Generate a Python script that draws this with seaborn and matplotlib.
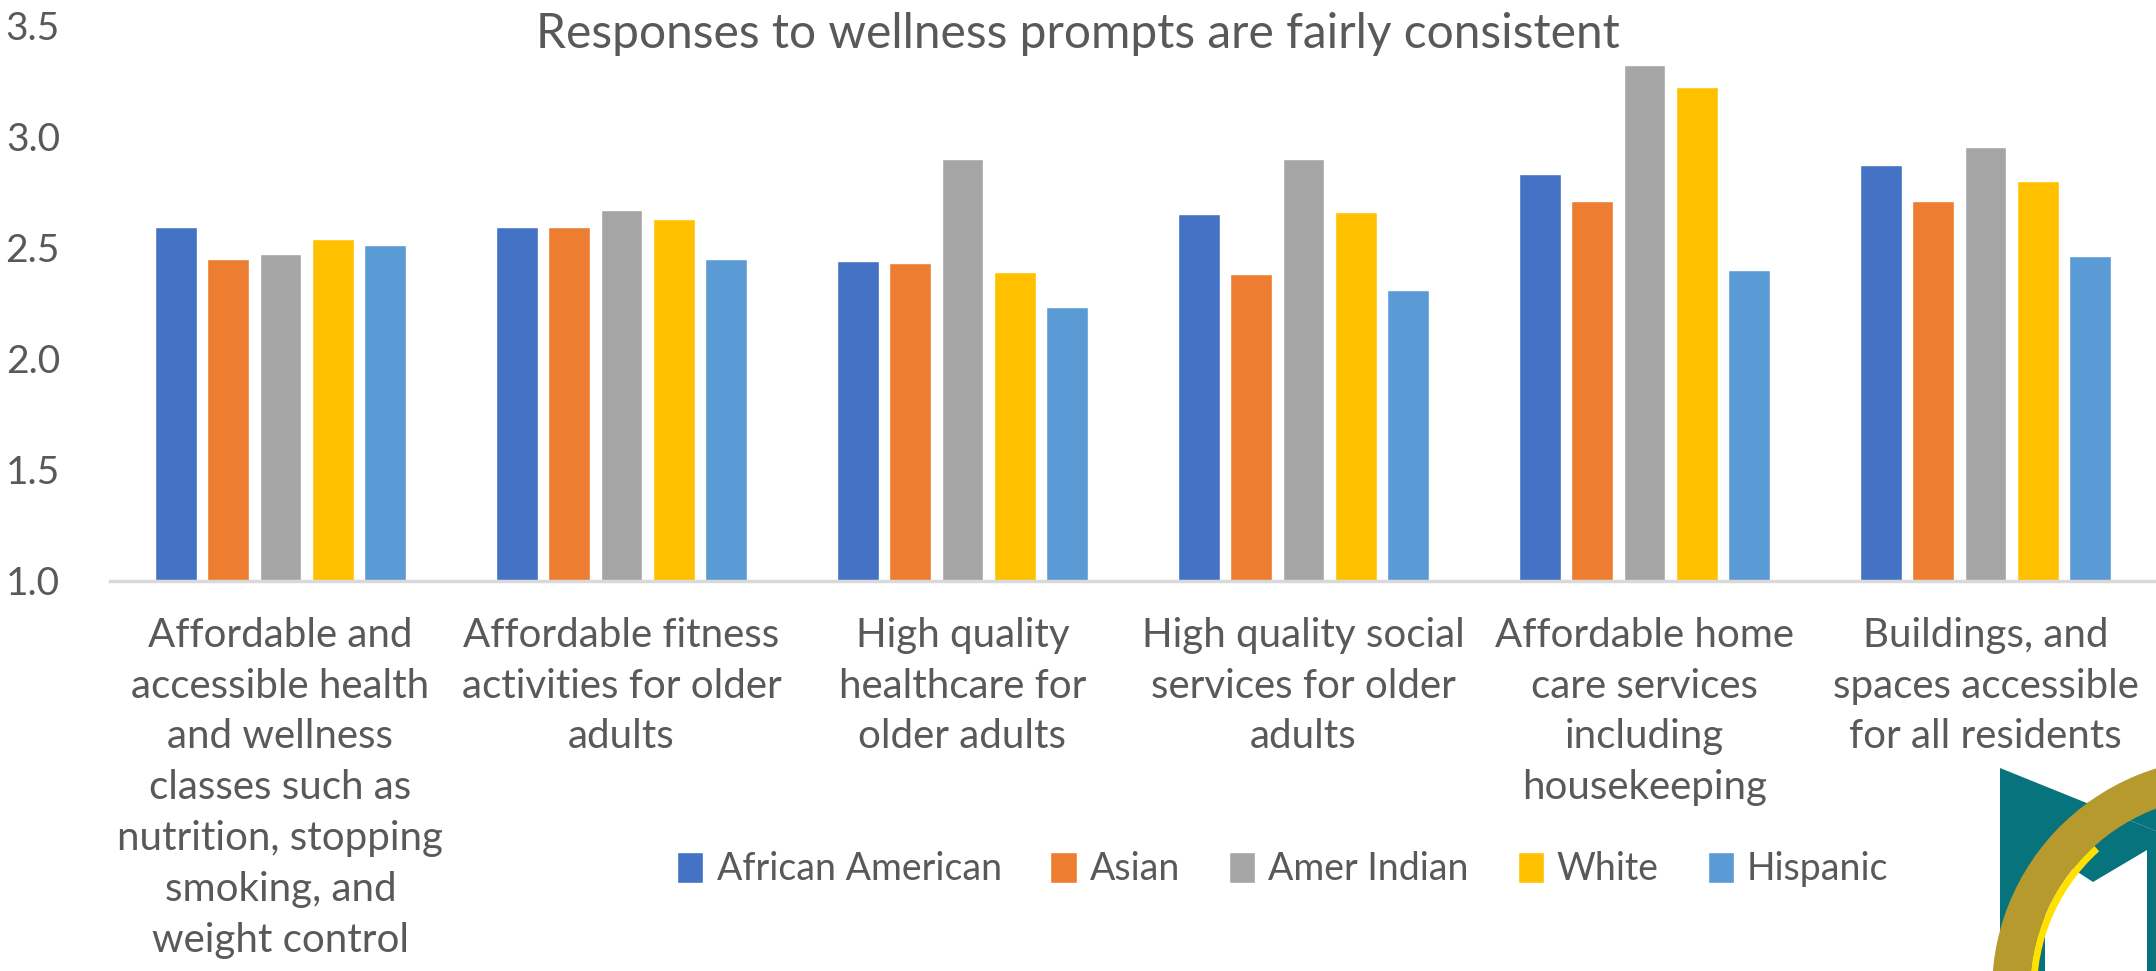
import numpy as np
import pandas as pd
import matplotlib.pyplot as plt
import seaborn as sns
from matplotlib.patches import Polygon, Wedge

categories = [
    "Affordable and\naccessible health\nand wellness\nclasses such as\nnutrition, stopping\nsmoking, and\nweight control",
    "Affordable fitness\nactivities for older\nadults",
    "High quality\nhealthcare for\nolder adults",
    "High quality social\nservices for older\nadults",
    "Affordable home\ncare services\nincluding\nhousekeeping",
    "Buildings, and\nspaces accessible\nfor all residents",
]
groups = ["African American", "Asian", "Amer Indian", "White", "Hispanic"]

african_american = [2.59, 2.59, 2.44, 2.65, 2.83, 2.87]
asian            = [2.45, 2.59, 2.43, 2.38, 2.71, 2.71]
amer_indian      = [2.47, 2.67, 2.90, 2.90, 3.32, 2.95]
white            = [2.54, 2.63, 2.39, 2.66, 3.22, 2.80]
hispanic         = [2.51, 2.45, 2.23, 2.31, 2.40, 2.46]

colors = ["#4472C4", "#ED7D31", "#A5A5A5", "#FFC000", "#5B9BD5"]
TEXT = "#595959"

df = pd.DataFrame({
    "category": np.repeat(categories, len(groups)),
    "group": groups * len(categories),
    "value": np.column_stack([african_american, asian, amer_indian, white, hispanic]).ravel(),
})

sns.set_style("white")
plt.rcParams["font.family"] = ["Lato", "DejaVu Sans"]

fig = plt.figure(figsize=(21.56, 9.71), dpi=100)
ax = fig.add_axes([0.051, 0.402, 0.949, 0.572])

sns.barplot(
    data=df, x="category", y="value", hue="group",
    order=categories, hue_order=groups, palette=colors, saturation=1,
    width=0.765, gap=0.2, ax=ax, errorbar=None,
)

ax.set_ylim(1.0, 3.5)
ax.set_yticks([1.0, 1.5, 2.0, 2.5, 3.0, 3.5])
ax.set_yticklabels([f"{v:.1f}" for v in [1.0, 1.5, 2.0, 2.5, 3.0, 3.5]])
ax.set_xlim(-0.5, len(categories) - 0.5)
ax.set_xlabel("")
ax.set_ylabel("")
ax.tick_params(axis="y", labelsize=28, colors=TEXT, length=0, pad=36)
ax.tick_params(axis="x", labelsize=29, colors=TEXT, length=0, pad=26)
for lbl in ax.get_xticklabels():
    lbl.set_linespacing(1.46)

for side in ["top", "right", "left"]:
    ax.spines[side].set_visible(False)
ax.spines["bottom"].set_color("#D9D9D9")
ax.spines["bottom"].set_linewidth(2.5)

fig.text(0.5, 0.965, "Responses to wellness prompts are fairly consistent",
         ha="center", va="center", fontsize=34.5, color=TEXT)

handles, labels = ax.get_legend_handles_labels()
ax.legend(handles, labels, loc="center", bbox_to_anchor=(0.595, 0.105),
          bbox_transform=fig.transFigure, ncol=5, frameon=False,
          fontsize=27, labelcolor=TEXT, handlelength=0.7, handleheight=0.9,
          handletextpad=0.35, columnspacing=1.3)

# logo in the bottom-right corner (pixel coordinates)
teal = "#07737C"
gold = "#B79A2E"
fig.patches.append(Polygon([[2000, 0], [2000, 203], [2156, 140], [2156, 0]],
                           closed=True, transform=None,
                           facecolor=teal, edgecolor="none"))
fig.patches.append(Polygon([[2156, 140], [2087, 168], [2156, 195]],
                           closed=True, transform=None,
                           facecolor=teal, edgecolor="none"))
fig.patches.append(Polygon([[2045, 0], [2045, 108], [2070, 104], [2093, 89],
                            [2147, 121], [2147, 0]], closed=True, transform=None,
                           facecolor="white", edgecolor="none"))
fig.patches.append(Wedge((2225, -20), 233, 88, 186, width=38, transform=None,
                         facecolor=gold, edgecolor="none"))
fig.patches.append(Wedge((2225, -20), 195, 132, 186, width=7, transform=None,
                         facecolor="#FFE000", edgecolor="none"))

fig.savefig("out.png", dpi=100)
